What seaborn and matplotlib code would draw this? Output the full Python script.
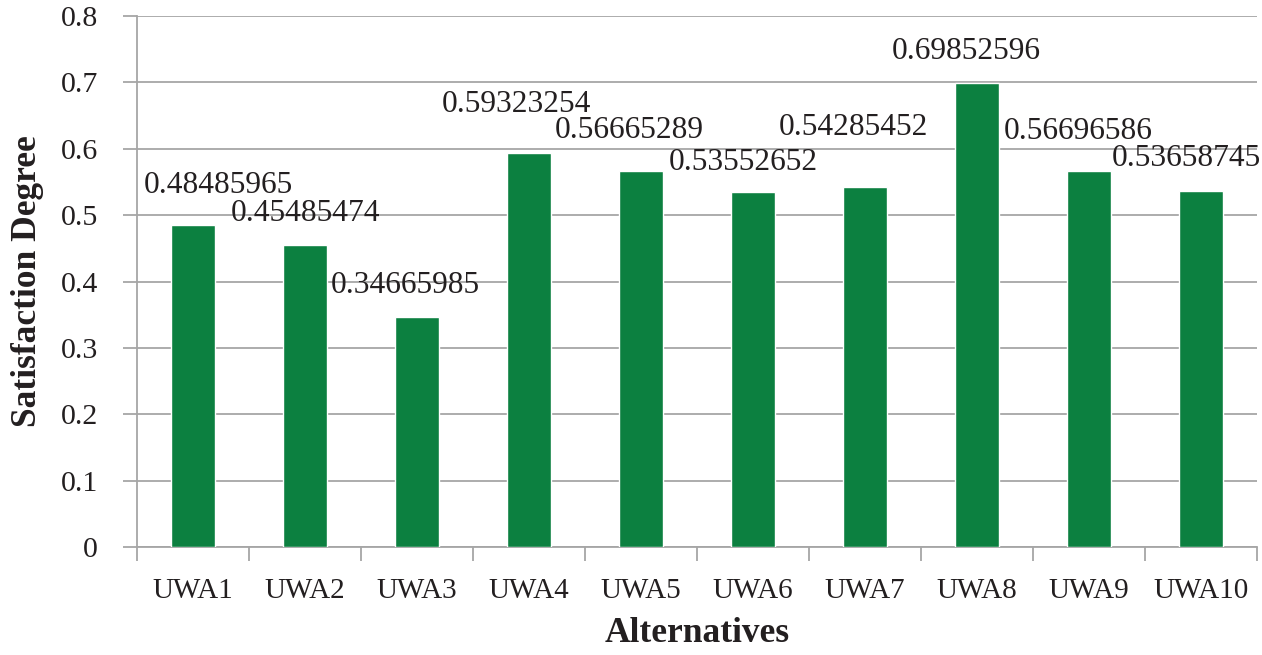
import pandas as pd
import seaborn as sns
import matplotlib.pyplot as plt

# Data
alternatives = ['UWA1', 'UWA2', 'UWA3', 'UWA4', 'UWA5',
                'UWA6', 'UWA7', 'UWA8', 'UWA9', 'UWA10']
satisfaction = [0.48485965, 0.45485474, 0.34665985, 0.59323254, 0.56665289,
                0.53552652, 0.54285452, 0.69852596, 0.56696586, 0.53658745]
value_labels = ['0.48485965', '0.45485474', '0.34665985', '0.59323254', '0.56665289',
                '0.53552652', '0.54285452', '0.69852596', '0.56696586', '0.53658745']

# label placement nudges (pixels) so the labels sit like in the original
label_dx = [25, 1, -12, -13, -12, -10, -12, -11, -11, -15]
label_dy = [40, 32, 31, 49, 40, 29, 59, 32, 39, 32]

df = pd.DataFrame({'Alternative': alternatives, 'Satisfaction': satisfaction})

sns.set_style('white', {'xtick.bottom': True, 'ytick.left': True})
plt.rcParams['font.family'] = ['Liberation Serif', 'DejaVu Serif']

fig = plt.figure(figsize=(12.62, 6.55), dpi=100)
ax = fig.add_axes([137 / 1262, 108 / 655, 1120 / 1262, 531 / 655])

sns.barplot(data=df, x='Alternative', y='Satisfaction', color='#0c8040',
            saturation=1, width=0.4, ax=ax, zorder=3)

ax.set_ylim(0, 0.8)
ax.set_xlim(-0.5, len(alternatives) - 0.5)
ax.set_yticks([i / 10 for i in range(9)])
ax.set_yticklabels(['0'] + ['%.1f' % (i / 10) for i in range(1, 9)])
ax.yaxis.grid(True, color='#a6a6a6', linewidth=1.3, zorder=0)
ax.set_axisbelow(True)

# category boundary ticks like Excel
ax.set_xticks([i + 0.5 for i in range(-1, len(alternatives))], minor=True)
ax.tick_params(axis='x', which='minor', bottom=True, length=10, width=1.3,
               color='#a6a6a6', direction='out')
ax.tick_params(axis='x', which='major', length=0, labelsize=21, pad=22,
               labelcolor='#231f20')
ax.tick_params(axis='y', which='major', length=10, width=1.3, color='#a6a6a6',
               direction='out', labelsize=21.5, pad=18, left=True,
               labelcolor='#231f20')

for side in ['top', 'right']:
    ax.spines[side].set_visible(False)
for side in ['left', 'bottom']:
    ax.spines[side].set_color('#a6a6a6')
    ax.spines[side].set_linewidth(1.3)

for i, (v, lab) in enumerate(zip(satisfaction, value_labels)):
    ax.annotate(lab, xy=(i, v), xytext=(label_dx[i] * 0.72, label_dy[i] * 0.72),
                textcoords='offset points', ha='center', va='center',
                fontsize=22.6, color='#231f20')

ax.set_xlabel('Alternatives', fontsize=25.5, fontweight='bold', labelpad=10,
              color='#231f20')
ax.set_ylabel('Satisfaction Degree', fontsize=25.5, fontweight='bold', labelpad=12,
              color='#231f20')

fig.savefig('out.png', dpi=100)
